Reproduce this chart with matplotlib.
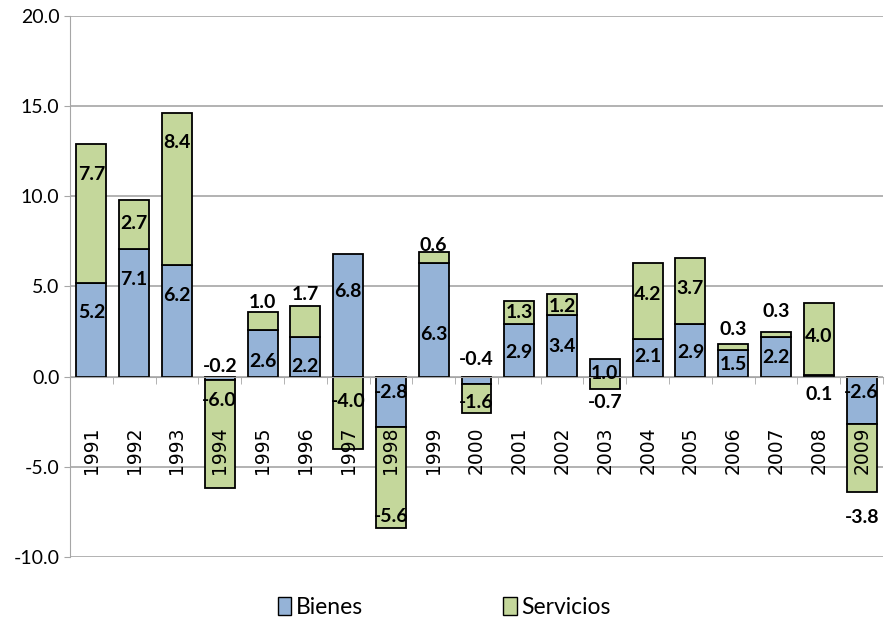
import numpy as np
import matplotlib.pyplot as plt
from matplotlib.patches import Patch

years = ['1991', '1992', '1993', '1994', '1995', '1996', '1997', '1998', '1999', '2000',
         '2001', '2002', '2003', '2004', '2005', '2006', '2007', '2008', '2009']
bienes = [5.2, 7.1, 6.2, -0.2, 2.6, 2.2, 6.8, -2.8, 6.3, -0.4,
          2.9, 3.4, 1.0, 2.1, 2.9, 1.5, 2.2, 0.1, -2.6]
servicios = [7.7, 2.7, 8.4, -6.0, 1.0, 1.7, -4.0, -5.6, 0.6, -1.6,
             1.3, 1.2, -0.7, 4.2, 3.7, 0.3, 0.3, 4.0, -3.8]

# where the data labels sit (value units), as placed by hand in the original
bienes_lbl_y = [3.55, 5.4, 4.5, 0.55, 0.85, 0.55, 4.7, -0.9, 2.35, 0.95,
                1.35, 1.65, 0.2, 1.1, 1.35, 0.65, 1.05, -1.0, -0.9]
serv_lbl_y = [11.2, 8.5, 13.0, -1.3, 4.1, 4.55, -1.4, -7.75, 7.3, -1.45,
              3.55, 3.9, -1.45, 4.55, 4.9, 2.6, 3.6, 2.2, -7.8]

blue = '#95B3D7'
green = '#C4D79B'
grid_c = '#A6A6A6'
lbl_font = 'Lato'

fig = plt.figure(figsize=(8.88, 6.23), dpi=100)
ax = fig.add_axes([0.0788, 0.106, 0.9156, 0.8683])

x = np.arange(len(years))
b = np.array(bienes)
s = np.array(servicios)
# Excel-style stacking: positives pile up, negatives pile down
pos_base = np.where(b > 0, b, 0)
neg_base = np.where(b < 0, b, 0)
s_base = np.where(s >= 0, pos_base, neg_base)

ax.bar(x, b, width=0.7, color=blue, edgecolor='black', linewidth=1.3, zorder=2)
ax.bar(x, s, bottom=s_base, width=0.7, color=green, edgecolor='black', linewidth=1.3, zorder=2)

for i in range(len(years)):
	ax.text(x[i], bienes_lbl_y[i], f'{bienes[i]:.1f}', ha='center', va='center',
	        fontsize=14, fontweight='bold', family=lbl_font, zorder=4)
	ax.text(x[i], serv_lbl_y[i], f'{servicios[i]:.1f}', ha='center', va='center',
	        fontsize=14, fontweight='bold', family=lbl_font, zorder=4)

ax.set_ylim(-10, 20)
ax.set_xlim(-0.5, len(years) - 0.5)
yt = np.arange(-10, 21, 5)
ax.set_yticks(yt)
ax.set_yticklabels([f'{v:.1f}' for v in yt], family=lbl_font, fontsize=14)
ax.yaxis.grid(True, color=grid_c, linewidth=1.2)
ax.set_axisbelow(True)
ax.xaxis.set_zorder(3)

ax.set_xticks(x)
ax.set_xticklabels(years)
ax.set_xticks(np.arange(len(years) + 1) - 0.5, minor=True)
ax.tick_params(axis='x', which='major', length=0, pad=36, labelrotation=90,
               labelsize=13.5, labelfontfamily='DejaVu Sans')
ax.tick_params(axis='x', which='minor', length=5, color=grid_c, direction='out')
ax.tick_params(axis='y', length=4, color=grid_c)

ax.spines['bottom'].set_position(('data', 0))
ax.spines['bottom'].set_color(grid_c)
ax.spines['left'].set_color(grid_c)
ax.spines['top'].set_visible(False)
ax.spines['right'].set_visible(False)

handles = [Patch(facecolor=blue, edgecolor='black', label='Bienes'),
           Patch(facecolor=green, edgecolor='black', label='Servicios')]
fig.legend(handles=handles, loc='center', bbox_to_anchor=(0.5, 0.025), ncol=2,
           frameon=False, prop={'family': lbl_font, 'size': 16.5},
           handlelength=0.6, handleheight=0.85, handletextpad=0.2, columnspacing=6.1)

plt.savefig('out.png', dpi=100)
